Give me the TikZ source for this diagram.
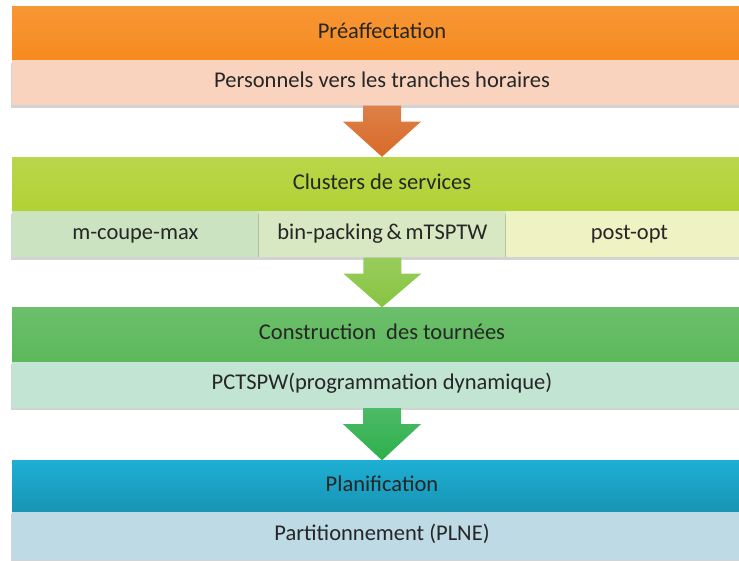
\documentclass[tikz,border=0pt]{standalone}
\usepackage{fontspec}
\setmainfont{Carlito}
\usetikzlibrary{positioning,calc,shadows}
\definecolor{prehd}{HTML}{F68B1F}
\definecolor{presub}{HTML}{F9D3BE}
\definecolor{prearr}{HTML}{D86A28}
\definecolor{cluhd}{HTML}{B1D235}
\definecolor{cluA}{HTML}{CBE3C1}
\definecolor{cluB}{HTML}{D8E8C3}
\definecolor{cluC}{HTML}{EFF3C3}
\definecolor{cluarr}{HTML}{86C440}
\definecolor{conhd}{HTML}{5CB85B}
\definecolor{consub}{HTML}{C2E4D2}
\definecolor{conarr}{HTML}{2DAF4C}
\definecolor{plahd}{HTML}{1DAFD4}
\definecolor{plasub}{HTML}{BDDAE5}
\tikzset{
  head/.style={minimum width=740pt,minimum height=54pt,inner sep=0pt,
    text height=15pt,text depth=5pt,
    font=\fontsize{22.5}{24}\selectfont,text=black!85},
  sub/.style={minimum width=740pt,minimum height=45pt,inner sep=0pt,
    text height=15pt,text depth=5pt,
    font=\fontsize{22.5}{24}\selectfont,text=black!85,
    drop shadow={shadow xshift=-1pt,shadow yshift=-2.5pt,opacity=.35}},
  cell/.style={sub,minimum width=246.67pt}
}
% block arrow from the bottom of #1 to the top of #2
\newcommand\blockarrow[3]{%
  \shade[top color=#3!85!white,bottom color=#3]
    ($(#1.south)+(-19,0)$) -- ($(#1.south)+(-19,16)$) -- ($(#1.south)+(-39,16)$)
    -- (#2.north) -- ($(#1.south)+(39,16)$) -- ($(#1.south)+(19,16)$)
    -- ($(#1.south)+(19,0)$) -- cycle;}
\begin{document}
\begin{tikzpicture}[x=1pt,y=-1pt]
\useasboundingbox (0,0) rectangle (739,560);
\clip (0,0) rectangle (739,560);
% 1
\node[head,top color=prehd!90!white,bottom color=prehd] (pre) at (382,33) {Préaffectation};
\node[sub,fill=presub,below=0pt of pre] (pers) {Personnels vers les tranches horaires};
% 2
\node[head,top color=cluhd!90!white,bottom color=cluhd] (clu) at (382,184) {Clusters de services};
\node[cell,fill=cluA,below right=0pt and 0pt of clu.south west,minimum height=46pt] (coupe) {m-coupe-max};
\node[cell,fill=cluB,right=0pt of coupe,minimum height=46pt] (bin) {bin-packing\,\&\,mTSPTW};
\node[cell,fill=cluC,right=0pt of bin,minimum height=46pt] (post) {post-opt};
% 3
\node[head,top color=conhd!90!white,bottom color=conhd] (con) at (382,334.5) {Construction\ \ des tournées};
\node[sub,fill=consub,below=0pt of con,minimum height=46pt] (pct) {PCTSPW(programmation dynamique)};
% 4
\node[head,top color=plahd,bottom color=plahd!85!black,minimum height=51pt] (pla) at (382,486) {Planification};
\node[sub,fill=plasub,below=0pt of pla,minimum height=48pt] (part) {Partitionnement (PLNE)};
% arrows
\blockarrow{pers}{clu}{prearr}
\blockarrow{bin}{con}{cluarr}
\blockarrow{pct}{pla}{conarr}
\end{tikzpicture}
\end{document}
